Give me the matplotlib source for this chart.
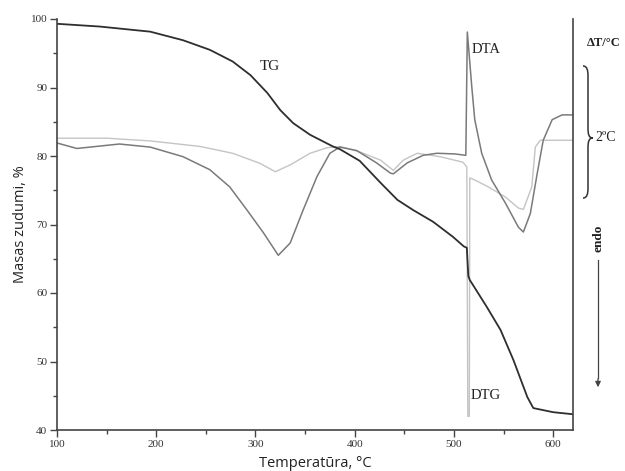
import numpy as np
import matplotlib
matplotlib.use("Agg")
import matplotlib.pyplot as plt
from matplotlib.path import Path
from matplotlib.patches import PathPatch
from matplotlib.ticker import MultipleLocator

# thermogravimetric curve, mass loss in %
tg_t = [100, 143, 194, 227, 254, 277, 295, 312, 325, 338, 355, 378, 385, 405,
        426, 443, 459, 479, 499, 510, 513, 514.5, 516, 533, 547, 560, 574, 580,
        600, 620]
tg_v = [99.3, 98.9, 98.15, 96.9, 95.5, 93.8, 91.8, 89.2, 86.7, 84.8, 83.1, 81.4,
        81.0, 79.3, 76.1, 73.6, 72.1, 70.4, 68.2, 66.8, 66.6, 62.5, 61.9, 58.0,
        54.6, 50.2, 44.8, 43.2, 42.6, 42.3]

# differential thermal analysis (scaled onto the same axis)
dta_t = [100, 120, 163, 194, 227, 254, 274, 291.5, 308, 323, 335, 348, 362, 375,
         385, 402, 422, 436, 439, 453, 469, 483, 501, 512, 513.5, 518, 521, 528,
         538, 552, 565, 570, 577, 584, 590, 599, 609, 620]
dta_v = [81.9, 81.1, 81.75, 81.3, 79.9, 78.0, 75.5, 72.1, 68.8, 65.5, 67.3, 72.1,
         77.0, 80.4, 81.3, 80.8, 79.0, 77.5, 77.4, 79.0, 80.1, 80.4, 80.3, 80.1,
         98.1, 90.1, 85.3, 80.4, 76.5, 73.1, 69.6, 68.9, 71.6, 77.5, 82.3, 85.3,
         86.0, 86.0]

# derivative thermogravimetric curve
dtg_t = [100, 150, 194, 244, 277, 305, 320, 335, 355, 372, 385, 405, 426, 439,
         449, 463, 486, 509, 513, 514, 515.5, 516, 521, 534.5, 552, 565, 570,
         578.5, 582, 587, 620]
dtg_v = [82.6, 82.6, 82.2, 81.4, 80.4, 78.9, 77.7, 78.7, 80.4, 81.2, 81.4, 80.6,
         79.4, 77.9, 79.4, 80.4, 79.9, 79.1, 78.4, 42.0, 42.0, 76.8, 76.5, 75.5,
         74.0, 72.4, 72.2, 75.5, 81.3, 82.3, 82.3]

W, H = 625, 471


def fx(px):
    return px / W


def fy(py):
    return 1 - py / H


fig = plt.figure(figsize=(6.25, 4.71), dpi=100)
ax = fig.add_axes([fx(57), fy(430), fx(573) - fx(57), fy(19) - fy(430)])

ax.plot(dtg_t, dtg_v, color="#c4c4c4", lw=1.0, solid_joinstyle="round")
ax.plot(dta_t, dta_v, color="#7a7a7a", lw=1.1, solid_joinstyle="round")
ax.plot(tg_t, tg_v, color="#2e2e2e", lw=1.3, solid_joinstyle="round")

ax.set_xlim(100, 620)
ax.set_ylim(40, 100)
ax.spines["top"].set_visible(False)
for s in ["left", "bottom", "right"]:
    ax.spines[s].set_color("#444444")
    ax.spines[s].set_linewidth(1.2)

ax.xaxis.set_major_locator(MultipleLocator(100))
ax.xaxis.set_minor_locator(MultipleLocator(50))
ax.yaxis.set_major_locator(MultipleLocator(10))
ax.yaxis.set_minor_locator(MultipleLocator(5))
ax.tick_params(which="major", direction="out", length=5, width=1, color="#444444",
               labelsize=8, pad=2)
ax.tick_params(which="minor", direction="out", length=3, width=1, color="#444444")
ax.tick_params(axis="y", right=False)
for lab in ax.get_xticklabels() + ax.get_yticklabels():
    lab.set_fontfamily("Liberation Serif")
    lab.set_color("#333333")

ax.set_xlabel("Temperatūra, °C", fontfamily="Open Sans", fontsize=10.5,
              labelpad=5.5, color="#222222")
ax.set_ylabel("Masas zudumi, %", fontfamily="Open Sans", fontsize=10.5,
              labelpad=2, color="#222222")

serif = dict(fontfamily="Liberation Serif", color="#222222")
ax.text(315, 93.0, "TG", fontsize=11, ha="center", va="center", **serif)
ax.text(518, 95.6, "DTA", fontsize=10.5, ha="left", va="center", **serif)
ax.text(517, 45.1, "DTG", fontsize=10.5, ha="left", va="center", **serif)

# scale marker on the right-hand side
fig.text(fx(604), fy(43), "ΔT/°C", fontsize=9, fontweight="bold", ha="center",
         va="center", **serif)
fig.text(fx(595), fy(138), "2ºC", fontsize=10, ha="left", va="center", **serif)

xb, xt = 583, 593
y0, ym, y1 = 66, 138, 198
verts = [
    (xb, y0), (xb + 4, y0), (xb + 5, y0 + 4), (xb + 5, y0 + 10),
    (xb + 5, ym - 10),
    (xb + 5, ym - 3), (xt - 4, ym), (xt, ym),
    (xt - 4, ym), (xb + 5, ym + 3), (xb + 5, ym + 10),
    (xb + 5, y1 - 10),
    (xb + 5, y1 - 4), (xb + 4, y1), (xb, y1),
]
codes = [Path.MOVETO, Path.CURVE4, Path.CURVE4, Path.CURVE4, Path.LINETO,
         Path.CURVE4, Path.CURVE4, Path.CURVE4,
         Path.CURVE4, Path.CURVE4, Path.CURVE4, Path.LINETO,
         Path.CURVE4, Path.CURVE4, Path.CURVE4]
brace = Path([(fx(a), fy(b)) for a, b in verts], codes)
fig.add_artist(PathPatch(brace, transform=fig.transFigure, fill=False,
                         edgecolor="#333333", lw=1.1))

fig.text(fx(598), fy(238), "endo", fontsize=9.5, fontweight="bold", rotation=90,
         ha="center", va="center", **serif)
fig.add_artist(plt.Line2D([fx(598), fx(598)], [fy(260), fy(378)],
                          color="#444444", lw=0.9, transform=fig.transFigure))
ax.annotate("", xy=(fx(598), fy(390)), xytext=(fx(598), fy(376)),
            xycoords="figure fraction", textcoords="figure fraction",
            arrowprops=dict(arrowstyle="-|>", color="#444444", lw=0.9,
                            mutation_scale=8))

fig.savefig("out.png", dpi=100)
